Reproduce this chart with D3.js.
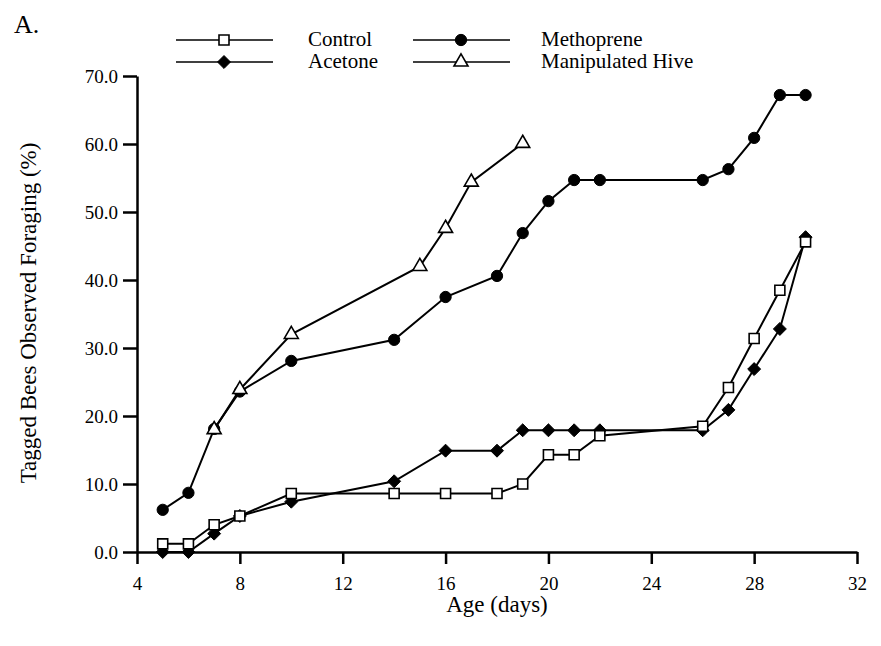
<!DOCTYPE html>
<html>
<head>
<meta charset="utf-8">
<script src="https://cdn.jsdelivr.net/npm/d3@7"></script>
<style>
  body { margin: 0; background: #fff; }
  svg text { font-family: "Liberation Serif", "DejaVu Serif", "Times New Roman", serif; fill: #000; }
</style>
</head>
<body>
<div id="container"></div>
<script>
// values
let xTicks = [4, 8, 12, 16, 20, 24, 28, 32];
let yTicks = [0, 10, 20, 30, 40, 50, 60, 70];

let controlDays = [5, 6, 7, 8, 10, 14, 16, 18, 19, 20, 21, 22, 26, 27, 28, 29, 30];
let controlVals = [1.2, 1.2, 4.0, 5.3, 8.6, 8.6, 8.6, 8.6, 10.0, 14.3, 14.3, 17.1, 18.5, 24.2, 31.4, 38.5, 45.6];

let acetoneDays = [5, 6, 7, 8, 10, 14, 16, 18, 19, 20, 21, 22, 26, 27, 28, 29, 30];
let acetoneVals = [0, 0, 2.7, 5.3, 7.4, 10.4, 14.9, 14.9, 17.9, 17.9, 17.9, 17.9, 17.9, 20.9, 26.9, 32.8, 46.3];

let methopreneDays = [5, 6, 7, 8, 10, 14, 16, 18, 19, 20, 21, 22, 26, 27, 28, 29, 30];
let methopreneVals = [6.2, 8.7, 18.1, 23.6, 28.1, 31.2, 37.5, 40.6, 46.9, 51.6, 54.7, 54.7, 54.7, 56.3, 60.9, 67.2, 67.2];

let hiveDays = [7, 8, 10, 15, 16, 17, 19];
let hiveVals = [18.0, 23.9, 32.0, 42.0, 47.6, 54.4, 60.1];

let serif = "'Liberation Serif', 'DejaVu Serif', 'Times New Roman', serif";

let svgWidth = 881;
let svgHeight = 646;

let viz = d3.select("#container")
  .append("svg")
    .attr("width", svgWidth)
    .attr("height", svgHeight);

let xScale = d3.scaleLinear().domain([4, 32]).range([137, 857]);
let yScale = d3.scaleLinear().domain([0, 70]).range([552, 76]);

// axes
let xAxis = d3.axisBottom(xScale).tickValues(xTicks).tickSize(12).tickSizeOuter(0).tickPadding(13);
let yAxis = d3.axisLeft(yScale).tickValues(yTicks).tickSize(14).tickSizeOuter(0).tickPadding(5)
  .tickFormat(d3.format(".1f"));

let gx = viz.append("g").attr("transform", "translate(0," + yScale(0) + ")").call(xAxis);
let gy = viz.append("g").attr("transform", "translate(" + xScale(4) + ",0)").call(yAxis);

[gx, gy].forEach(g => {
  g.attr("font-family", serif);
  g.select(".domain").attr("stroke", "#000").attr("stroke-width", 2.5);
  g.selectAll(".tick line").attr("stroke", "#000").attr("stroke-width", 2.5);
  g.selectAll(".tick text").style("font-size", "19px").style("font-family", serif);
});

// axis titles
viz.append("text")
  .attr("x", 497).attr("y", 612)
  .attr("text-anchor", "middle")
  .style("font-family", serif)
  .style("font-size", "23px")
  .text("Age (days)");

viz.append("text")
  .attr("transform", "translate(36,313) rotate(-90)")
  .attr("text-anchor", "middle")
  .style("font-family", serif)
  .style("font-size", "23px")
  .text("Tagged Bees Observed Foraging (%)");

viz.append("text")
  .attr("x", 14).attr("y", 33)
  .style("font-family", serif)
  .style("font-size", "26px")
  .text("A.");

// square diamond (d3's own is elongated)
let flatDiamond = {
  draw(ctx, size) {
    let r = Math.sqrt(size / 2);
    ctx.moveTo(0, -r); ctx.lineTo(r, 0); ctx.lineTo(0, r); ctx.lineTo(-r, 0); ctx.closePath();
  }
};

let symbols = {
  circle: d3.symbol().type(d3.symbolCircle).size(100),
  triangle: d3.symbol().type(d3.symbolTriangle).size(85),
  diamond: d3.symbol().type(flatDiamond).size(84),
  square: d3.symbol().type(d3.symbolSquare).size(100)
};

// series
let series = [
  {name: "Methoprene", days: methopreneDays, vals: methopreneVals, shape: "circle", fill: "#000"},
  {name: "Manipulated Hive", days: hiveDays, vals: hiveVals, shape: "triangle", fill: "#fff"},
  {name: "Acetone", days: acetoneDays, vals: acetoneVals, shape: "diamond", fill: "#000"},
  {name: "Control", days: controlDays, vals: controlVals, shape: "square", fill: "#fff"}
];

let lineGen = d3.line().x(d => xScale(d[0])).y(d => yScale(d[1]));

series.forEach(s => {
  let pts = s.days.map((d, i) => [d, s.vals[i]]);
  viz.append("path")
    .attr("d", lineGen(pts))
    .attr("fill", "none")
    .attr("stroke", "#000")
    .attr("stroke-width", 2);
  viz.selectAll(null).data(pts).enter().append("path")
    .attr("d", symbols[s.shape])
    .attr("transform", d => "translate(" + xScale(d[0]) + "," + yScale(d[1]) + ")")
    .attr("fill", s.fill)
    .attr("stroke", "#000")
    .attr("stroke-width", s.fill === "#fff" ? 1.6 : 1);
});

// legend
let legendItems = [
  {name: "Control", shape: "square", fill: "#fff", x: 176, y: 40},
  {name: "Acetone", shape: "diamond", fill: "#000", x: 176, y: 62},
  {name: "Methoprene", shape: "circle", fill: "#000", x: 413, y: 40},
  {name: "Manipulated Hive", shape: "triangle", fill: "#fff", x: 413, y: 62}
];

let legend = viz.append("g").attr("class", "legend");
legendItems.forEach(it => {
  legend.append("line")
    .attr("x1", it.x).attr("x2", it.x + 97)
    .attr("y1", it.y).attr("y2", it.y)
    .attr("stroke", "#000").attr("stroke-width", 1.6);
  legend.append("path")
    .attr("d", symbols[it.shape])
    .attr("transform", "translate(" + (it.x + 48) + "," + it.y + ")")
    .attr("fill", it.fill)
    .attr("stroke", "#000")
    .attr("stroke-width", it.fill === "#fff" ? 1.6 : 1);
  legend.append("text")
    .attr("x", it.x === 176 ? 308 : 541)
    .attr("y", it.y + 6)
    .style("font-family", serif)
    .style("font-size", "21px")
    .text(it.name);
});
</script>
</body>
</html>
